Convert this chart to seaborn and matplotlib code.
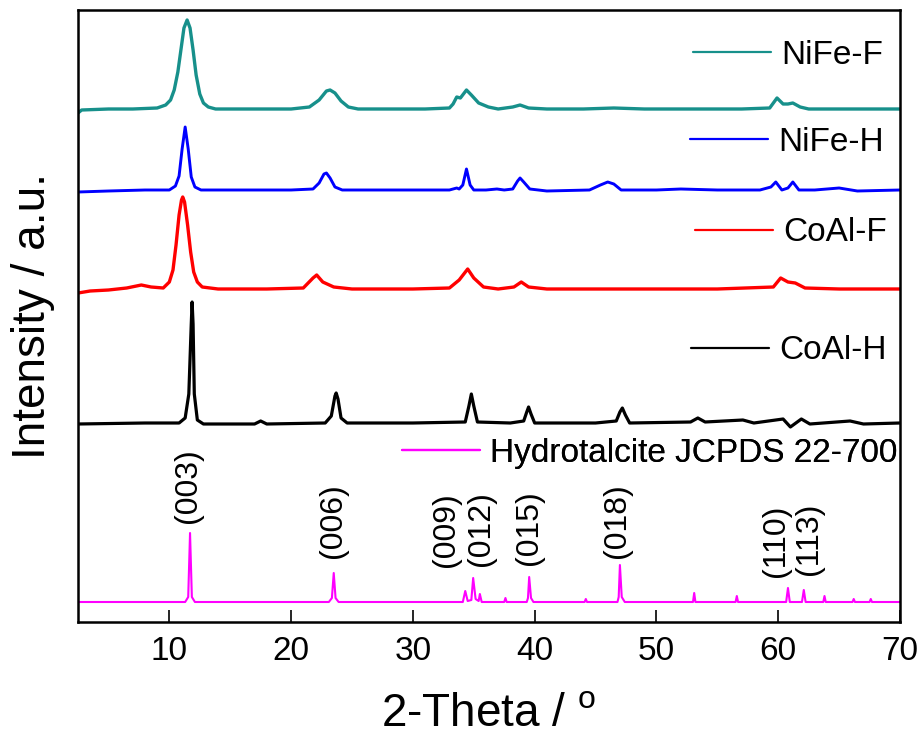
import matplotlib
matplotlib.use("Agg")
import matplotlib.pyplot as plt
import seaborn as sns
import pandas as pd
from matplotlib.lines import Line2D

# ---------------- data (2-theta, intensity above each curve's own baseline, a.u.) ----------------
nife_f_x = [2.5, 2.8, 5, 7, 9.0, 9.7, 10.1, 10.4, 10.7, 10.95, 11.2, 11.46, 11.7, 11.95, 12.2, 12.5, 12.8,
            13.2, 13.8, 16, 18, 20,
            21.5, 22.3, 22.9, 23.2, 23.6, 24.1, 24.7, 25.5, 28, 31, 33.0, 33.3, 33.6, 33.9, 34.4, 34.8,
            35.4, 36.2, 37, 38.2, 38.8, 39.5, 41, 44, 46.5, 49, 53, 57, 59.3, 59.9, 60.4, 60.8, 61.2,
            61.8, 62.5, 66, 70]
nife_f_y = [-3, 0, 1, 1, 2, 5, 10, 20, 38, 60, 82, 90, 82, 60, 35, 16, 7,
            3, 1, 1, 1, 1,
            3, 10, 19, 20, 17, 9, 3, 1, 1, 1, 2, 6, 13, 12, 20, 15,
            7, 3, 1, 3, 5, 2, 1, 1, 2, 1, 1, 1, 2, 12, 6, 6, 7,
            3, 1, 1, 1]

nife_h_x = [2.5, 5, 8, 10.0, 10.5, 10.8, 11.05, 11.3, 11.55, 11.8, 12.1, 12.6, 16, 20, 21.8, 22.3, 22.7,
            22.9, 23.2, 23.6, 24.2, 28, 33, 33.6, 33.8, 34.1, 34.4, 34.7, 35.0, 36.0, 36.9, 37.5, 38.2,
            38.6, 38.8, 39.1, 39.6, 41, 44.5, 45.4, 46.0, 46.5, 47.1, 50, 52, 55, 58.5, 59.4, 59.8,
            60.3, 60.8, 61.2, 61.7, 63, 65, 66.5, 70]
nife_h_y = [-1, 0, 1, 1, 5, 15, 42, 64, 42, 14, 4, 1, 1, 1, 2, 8, 17,
            18, 13, 4, 1, 1, 1, 3, 2, 6, 22, 6, 1, 1, 2, 1, 2,
            10, 13, 9, 2, 0, 1, 6, 9, 7, 1, 1, 2, 1, 1, 4, 9,
            1, 3, 9, 1, 1, 3, 0, 1]

coal_f_x = [2.5, 3.5, 5, 6.5, 7.7, 8.5, 9.5, 10.0, 10.3, 10.55, 10.8, 11.0, 11.1, 11.25, 11.5, 11.75,
            12.0, 12.3, 12.7, 14, 18, 21,
            21.8, 22.1, 22.6, 23.5, 25, 30, 33.0, 33.8, 34.5, 35.0, 35.8, 37, 38.3, 38.9, 39.5, 41, 45,
            50, 55, 59.6, 60.2, 60.8, 61.4, 62.2, 65, 70]
coal_f_y = [-3, -1, 0, 2, 5, 3, 2, 8, 20, 45, 75, 90, 93, 88, 65, 38,
            18, 8, 3, 1, 1, 2,
            12, 15, 8, 3, 1, 1, 2, 10, 21, 12, 3, 1, 3, 8, 3, 1, 1,
            1, 1, 3, 12, 8, 7, 2, 1, 1]

coal_h_x = [2.5, 8, 10.8, 11.3, 11.6, 11.8, 11.87, 11.95, 12.05, 12.3, 12.8, 17.0, 17.5, 18.0, 22.8, 23.3,
            23.6, 23.7, 23.85, 24.1, 24.6, 30, 34.3, 34.6, 34.8, 35.0, 35.3, 38, 39.1, 39.35, 39.5,
            39.7, 40.0, 45, 46.7, 47.0, 47.2, 47.45, 47.8, 52.8, 53.4, 54.0, 57.1, 58, 60.4, 61.0,
            61.9, 62.6, 65.9, 67, 70]
coal_h_y = [0, 1, 1, 6, 30, 100, 122, 100, 30, 4, 0, 0, 3, 0, 1, 8,
            28, 31, 25, 6, 1, 1, 2, 18, 30, 18, 2, 1, 3, 12, 17,
            10, 1, 1, 3, 12, 16, 9, 1, 2, 6, 2, 4, 1, 5, -3,
            5, 0, 3, 0, 1]

hydro_x = [2.5, 11.3, 11.55, 11.7, 11.85, 12.1, 23.1, 23.35, 23.5, 23.65, 23.9, 34.1, 34.3, 34.5, 34.8,
           34.95, 35.15, 35.4, 35.5, 35.65, 37.5, 37.6, 37.7, 39.35, 39.45, 39.55, 39.7, 39.9, 44.1,
           44.2, 44.3, 46.8, 46.9, 47.0, 47.15, 47.4, 53.0, 53.1, 53.2, 56.5, 56.6, 56.7, 60.65, 60.8,
           60.95, 61.95, 62.1, 62.25, 63.7, 63.8, 63.9, 66.1, 66.2, 66.3, 67.5, 67.6, 67.7, 70]
hydro_y = [0, 0, 5, 69, 5, 0, 0, 4, 29, 4, 0, 0, 11, 1, 2,
           24, 3, 1, 8, 0, 0, 4, 0, 0, 4, 25, 4, 0, 0,
           3, 0, 0, 5, 37, 5, 0, 0, 9, 0, 0, 6, 0, 0, 14,
           0, 0, 12, 0, 0, 6, 0, 0, 3, 0, 0, 3, 0, 0]

series_names = ["NiFe-F", "NiFe-H", "CoAl-F", "CoAl-H", "Hydrotalcite JCPDS 22-700"]

hkl_labels = ["(003)", "(006)", "(009)", "(012)", "(015)", "(018)", "(110)", "(113)"]
hkl_x = [11.54, 23.45, 32.7, 35.6, 39.5, 46.8, 59.8, 62.5]
hkl_y = [99, 64, 55, 56, 57, 64, 45, 47]

x_ticks = [10, 20, 30, 40, 50, 60, 70]

# ---------------- styling ----------------
series_data = [(nife_f_x, nife_f_y), (nife_h_x, nife_h_y), (coal_f_x, coal_f_y),
               (coal_h_x, coal_h_y), (hydro_x, hydro_y)]
offsets = [512, 431, 332, 198, 20]
colors = ["#17908B", "#0000FF", "#FF0000", "#000000", "#FF00FF"]
widths = [2.4, 2.1, 2.4, 2.3, 1.5]
# legend anchors (axes fraction, right edge of text / vertical center)
leg_pos = [(0.979, 0.926), (0.980, 0.784), (0.984, 0.636), (0.984, 0.443), (0.997, 0.276)]

sns.set_theme(style="white")
plt.rcParams["font.family"] = ["Liberation Sans", "DejaVu Sans"]
plt.rcParams["mathtext.fontset"] = "custom"
plt.rcParams["mathtext.rm"] = "Liberation Sans"
plt.rcParams["text.color"] = "black"
plt.rcParams["axes.labelcolor"] = "black"
plt.rcParams["xtick.color"] = "black"
plt.rcParams["ytick.color"] = "black"

fig = plt.figure(figsize=(9.23, 7.48), dpi=100)
ax = fig.add_axes([78 / 923, 126 / 748, 822 / 923, 612 / 748])

frames = []
for name, (xs, ys), off in zip(series_names, series_data, offsets):
    frames.append(pd.DataFrame({"two_theta": xs, "intensity": [v + off for v in ys], "sample": name}))
df = pd.concat(frames, ignore_index=True)

handles = []
for name, col, lw in zip(series_names, colors, widths):
    sub = df[df["sample"] == name]
    sns.lineplot(data=sub, x="two_theta", y="intensity", ax=ax, color=col, linewidth=lw,
                 estimator=None, sort=False, legend=False)
    handles.append(Line2D([], [], color=col, linewidth=1.6))

for txt, hx, hy in zip(hkl_labels, hkl_x, hkl_y):
    ax.text(hx, hy, txt, rotation=90, ha="center", va="bottom", fontsize=23, color="black")

for h, name, (lx, ly) in zip(handles, series_names, leg_pos):
    lg = ax.legend(handles=[h], labels=[name], loc="center right", bbox_to_anchor=(lx, ly),
                   frameon=False, fontsize=24, handlelength=2.35, handletextpad=0.3,
                   borderpad=0, borderaxespad=0, labelcolor="black")
    ax.add_artist(lg)

ax.set_xlim(2.5, 70)
ax.set_ylim(0, 612)
ax.set_xticks(x_ticks)
ax.set_yticks([])
ax.tick_params(axis="x", direction="in", length=8.5, width=1.2, pad=10, labelsize=24,
               bottom=True, colors="black")
for sp in ax.spines.values():
    sp.set_visible(True)
    sp.set_color("black")
    sp.set_linewidth(1.8)

ax.set_xlabel(r"2-Theta / $^{\mathregular{o}}$", fontsize=33, color="black")
ax.set_ylabel("Intensity / a.u.", fontsize=33, color="black")
ax.xaxis.set_label_coords(0.5, -0.115)
ax.yaxis.set_label_coords(-0.028, 0.5)

fig.savefig("out.png", dpi=100, facecolor="white")
